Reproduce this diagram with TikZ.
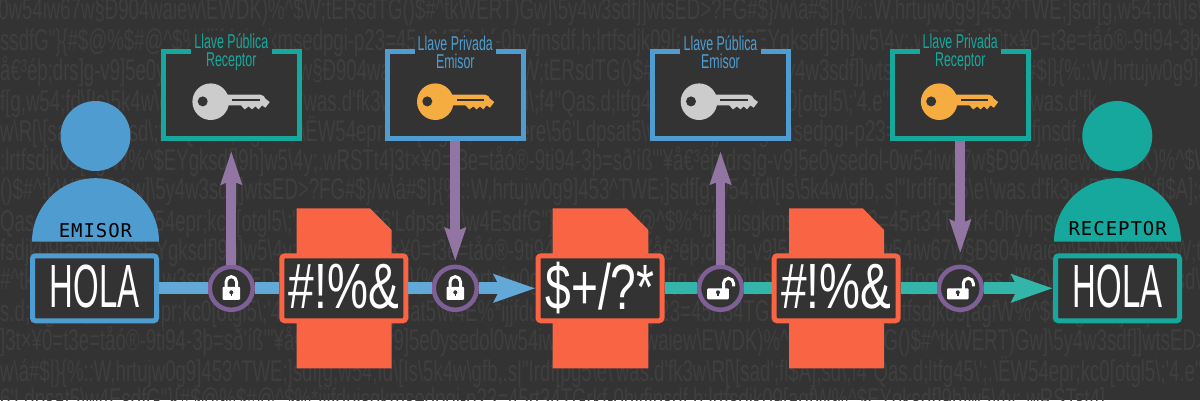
\documentclass[tikz,border=0pt]{standalone}
\usepackage{fontspec}
\usepackage{tikz}
\usetikzlibrary{arrows.meta,positioning}

\newfontfamily\ghostfont[FakeStretch=0.62]{Liberation Sans}
\newfontfamily\bigfont[FakeStretch=0.54]{Liberation Sans}
\newfontfamily\cipherfont[FakeStretch=0.72]{Liberation Sans}
\newfontfamily\keyfont[FakeStretch=0.62]{Liberation Sans}
\newfontfamily\tagfont[LetterSpace=5]{DejaVu Sans Mono}

\newcommand{\bs}{\textbackslash{}}
\newcommand{\crt}{\textasciicircum{}}

\definecolor{bgdark}{HTML}{333333}
\definecolor{ghost}{HTML}{3F3F3F}
\definecolor{blueA}{HTML}{4F9DD0}
\definecolor{blueB}{HTML}{62A9D7}
\definecolor{tealA}{HTML}{16A89C}
\definecolor{tealB}{HTML}{33B5A9}
\definecolor{redA}{HTML}{F96444}
\definecolor{purpleA}{HTML}{9375A3}
\definecolor{purpleB}{HTML}{7E5F96}
\definecolor{amber}{HTML}{F5AC41}
\definecolor{keygrey}{HTML}{CCCCCC}

\tikzset{
  keyicon/.pic={
    \path[pic actions] (0,0) circle (18.3);
    \path[pic actions] (14,-7) -- (49.7,-7) -- (53,-5.7) -- (54.7,-3) -- (59,0.3)
      -- (54.7,6) -- (51.3,3.7) -- (48,7.7) -- (44.7,4.7) -- (41.3,7.7)
      -- (38,4.7) -- (34,7.7) -- (30.3,3.7) -- (14,3.7) -- cycle;
    \fill[bgdark] (-8,-0.3) circle (5);
    \fill[bgdark] (21.3,-3) rectangle (49,-1);
  },
  closedlock/.pic={
    \draw[white,line width=3] (-5.2,1) -- (-5.2,-6.5) arc (180:360:5.2) -- (5.2,1);
    \fill[white,rounded corners=1] (-8.8,-1.5) rectangle (8.8,11.5);
    \fill[bgdark] (0,4) circle (2);
    \fill[bgdark] (-0.8,4) rectangle (0.8,8);
  },
  openlock/.pic={
    \draw[white,line width=3] (3,1) -- (3,-5) arc (180:360:5) -- (13,-2);
    \fill[white,rounded corners=1] (-13.3,0) rectangle (8.3,11);
    \fill[bgdark] (-2.5,4) circle (2);
    \fill[bgdark] (-3.3,4) rectangle (-1.7,8);
  }
}

\begin{document}
\begin{tikzpicture}[x=1pt,y=-1pt]

\useasboundingbox (0,0) rectangle (1200,400);
\clip (0,0) rectangle (1200,400);
\fill[bgdark] (0,0) rectangle (1200,400);

% set style here
\tikzstyle{ghostrow}=[anchor=west,inner sep=0,text=ghost,font=\ghostfont\fontsize{30}{30}\selectfont]
\tikzstyle{holabox}=[draw,fill=bgdark,line width=5,rounded corners=3,minimum width=124,minimum height=65,inner sep=0,text depth=4,text=white,font=\bigfont\fontsize{61}{61}\selectfont]
\tikzstyle{cipherbox}=[holabox,draw=redA,font=\cipherfont\fontsize{64}{64}\selectfont]
\tikzstyle{keybox}=[draw,fill=bgdark,line width=5,minimum width=136,minimum height=87,inner sep=0]
\tikzstyle{keylabel}=[fill=bgdark,minimum width=81,inner sep=2,align=center,font=\keyfont\fontsize{20}{18.3}\selectfont]
\tikzstyle{lockring}=[draw=purpleB,fill=bgdark,line width=4.5,circle,minimum size=43,inner sep=0]
\tikzstyle{tagtext}=[inner sep=0,text=black,font=\tagfont\fontsize{19}{19}\selectfont]
\tikzstyle{mainline}=[line width=12,-{Stealth[length=41,width=27,inset=6]}]
\tikzstyle{keyline}=[draw=purpleA,line width=9.7,-{Stealth[length=33,width=20,inset=3]}]

% ghost text behind everything
\node (row0) at (-8, 12) [ghostrow] {-0w54iw67w§Ð904waiew\bs EWDK)\%\crt\$W;tERsdTG()\$\#\crt tkWERT)Gw]\bs 5y4w3sdf]]wtsED>?FG\#\$\}/w\bs á\#\$|\}\{\%::W,hrtujw0g9]453\crt TWE;]sdf[g,w54;fd\bs[Is\bs 5k4w\bs gfb,.s|"Irdf[pg5\bs e\bs'was};
\node (row1) at (0, 42) [ghostrow] {ssdfG"\}\{\#\$@\%\$\#@\crt\$\%*ijjfduisgkmsedpgi-p23=45rt34TGrkf-0hyfjnsdf,h;lrtfsdjk09[agfW\%\crt\$EYgksdf]9h]w5\bs 4y;.wRSTst4]3t×¥0=t3e=tåó®-9ti94-3þ=sð'íß'"};
\node (row2) at (0, 72) [ghostrow] {å€³éþ;drs]g-v9]5e0ysedol-0w54iw67w§Ð904waiew\bs EWDK)\%\crt\$W;tERsdTG()\$\#\crt tkWERT)Gw]\bs 5y4w3sdf]]wtsED>?FG\#\$\}/w\bs á\#\$|\}\{\%::W,hrtujw0g9]453\crt TWE;]sdf};
\node (row3) at (0, 102) [ghostrow] {f[g,w54;fd\bs[Is\bs 5k4w\bs gfb,.s|"Irdf[pg5\bs e\bs'was.d'fk3w\bs R[\bs[sad';fl\$A];sd\bs;f4"Qas.d;ltfg45\bs';.\bs ËW54epr;kc0[otgl5\bs;'4.e"\bs;ere\bs|"Irdf[pg5\bs e\bs'was.d'fk};
\node (row4) at (0, 132) [ghostrow] {w\bs R[\bs[sad';fl\$A];sd\bs;f4"Qas.d;ltfg45\bs';.\bs ËW54epr;kc0[otgl5\bs;'4.e"\bs;ere\bs 56'Ldpsat5\bs w4E\%*ijjfduisgkmsedpgi-p23=45rt34TGrkf-0hyfjnsdf,};
\node (row5) at (0, 162) [ghostrow] {;lrtfsdjk09[agfW\%\crt\$EYgksdf]9h]w5\bs 4y;.wRSTt4]3t×¥0=t3e=tåó®-9ti94-3þ=sð'íß'"¥å€³éþ;drs]g-v9]5e0ysedol-0w54iw67w§Ð904waiew\bs EWDK)\%\crt\$W;tERsdT};
\node (row6) at (0, 192) [ghostrow] {()\$\#\crt tkWERT)Gw]\bs 5y4w3sdf]]wtsED>?FG\#\$\}/w\bs á\#\$|\}\{\%::W,hrtujw0g9]453\crt TWE;]sdf[g,w54;fd\bs[Is\bs 5k4w\bs gfb,.s|"Irdf[pg5\bs e\bs'was.d'fk3w\bs R[\bs[sad';fl\$A];sd\bs;f4};
\node (row7) at (0, 222) [ghostrow] {Qas.d;ltfg45\bs';.\bs ËW54epr;kc0[otgl5\bs;'4.e"\bs;ere\bs 56'Ldpsat5\bs w4EsdfG"\}\{\#\$@\%\$\#@\crt\$\%*ijjfduisgkmsedpgi-p23=45rt34TGrkf-0hyfjnsdf,h;};
\node (row8) at (0, 252) [ghostrow] {fsdjk09[agfW\%\crt\$EYgksdf]9h]w5\bs 4y;.wRSTt4]3t×¥0=t3e=tåó®-9ti94-3þ=sð'íß'"¥å€³éþ;drs]g-v9]5e0ysedol-0w54iw67w§Ð904waiew\bs EWDK)\%\crt\$W;tERsdTG(};
\node (row9) at (0, 282) [ghostrow] {\#\crt tkWERT)Gw]\bs 5y4w3sdf]]wtsED>?FG\#\$\}/w\bs á\#\$|\}\{\%::W,hrtujw0g9]453\crt TWE;]sdf[g,w54;fd\bs[Is\bs 5k4w\bs gfb,.s|"Irdf[pg5\bs e\bs'was.d'fk3w\bs R[\bs[sad';fl\$A];sd\bs;f4"Q};
\node (row10) at (0, 312) [ghostrow] {s.d;ltfg45\bs';.\bs ËW54epr;kc0[otgl5\bs;'4.e"\bs;ere\bs 56'Ldpsat5\bs w4E\%*ijjfduisgkmsedpgi-p23=45rt34TGrkf-0hyfjnsdf,h;lrtfsdjk09[agfW\%\crt\$EYgksdf]9h]w5};
\node (row11) at (0, 342) [ghostrow] {]3t×¥0=t3e=tåó®-9ti94-3þ=sð'íß'"¥å€³éþ;drs]g-v9]5e0ysedol0w54iw67w§Ð904waiew\bs EWDK)\%\crt\$W;tERsdTG()\$\#\crt tkWERT)Gw]\bs 5y4w3sdf]]wtsED>?FG\#\$\}/w\bs á\#\$|\}\{};
\node (row12) at (0, 372) [ghostrow] {w\bs á\#\$|\}\{\%::W,hrtujw0g9]453\crt TWE;]sdf[g,w54;fd\bs[Is\bs 5k4w\bs gfb,.s|"Irdf[pg5\bs e\bs'was.d'fk3w\bs R[\bs[sad';fl\$A];sd\bs;f4"Qas.d;ltfg45\bs';.\bs ËW54epr;kc0[otgl5\bs;'4.e"};
\node (row13) at (0, 402) [ghostrow] {6'Ldpsat5\bs w4EsdfG"\}\{\#\$@\%\$\#@\crt\$\%*ijjfduisgkmsedpgi-p23=45rt34TGrkf-0hyfjnsdf,h;lrtfsdjk09[agfW\%\crt\$EYgksdf]9h]w5\bs 4y;.wRSTst4]};

% sender and receiver
\fill[blueA] (95.5,136) circle (35);
\fill[blueA] (32,241.7) arc (180:360:63.5) -- cycle;
\fill[tealA] (1117.3,136) circle (35);
\fill[tealA] (1054,241.7) arc (180:360:63.5) -- cycle;
\node (emisor) at (95.5, 230.7) [tagtext] {EMISOR};
\node (receptor) at (1117.7, 229) [tagtext] {RECEPTOR};

% sheets behind the cipher boxes
\fill[redA] (296.7,208.3) -- (370,208.3) -- (391.7,230) -- (391.7,368.3) -- (296.7,368.3) -- cycle;
\fill[redA] (552.7,208.3) -- (626.7,208.3) -- (648.3,230) -- (648.3,368.3) -- (552.7,368.3) -- cycle;
\fill[redA] (789,208.3) -- (862.7,208.3) -- (884,230) -- (884,368.3) -- (789,368.3) -- cycle;

\node (plainA) at (94.5, 288.3) [holabox,draw=blueA] {HOLA};
\node (cipherA) at (343.8, 288.3) [cipherbox] {\#!\%\&};
\node (cipherB) at (600, 288.3) [cipherbox] {\$+/?*};
\node (cipherC) at (836.2, 288.3) [cipherbox] {\#!\%\&};
\node (plainB) at (1117.5, 288.3) [holabox,draw=tealA] {HOLA};

\node (lockA) at (231.3, 288.3) [lockring] {};
\node (lockB) at (455.3, 288.3) [lockring] {};
\node (lockC) at (720.5, 288.3) [lockring] {};
\node (lockD) at (960.3, 288.3) [lockring] {};

\node (keyA) at (231.3, 94.7) [keybox,draw=tealA] {};
\node (keyB) at (455.3, 94.7) [keybox,draw=blueA] {};
\node (keyC) at (720.5, 94.7) [keybox,draw=blueA] {};
\node (keyD) at (960.3, 94.7) [keybox,draw=tealA] {};

\node (nameA) at (231.3, 52) [keylabel,text=tealA] {Llave Pública\\Receptor};
\node (nameB) at (455.3, 52) [keylabel,text=blueA] {Llave Privada\\Emisor};
\node (nameC) at (720.5, 52) [keylabel,text=blueA] {Llave Pública\\Emisor};
\node (nameD) at (960.3, 52) [keylabel,text=tealA] {Llave Privada\\Receptor};

\pic at (210.7, 101.7) [fill=keygrey] {keyicon};
\pic at (435.3, 101.7) [fill=amber] {keyicon};
\pic at (699, 101.7) [fill=keygrey] {keyicon};
\pic at (939.2, 101.7) [fill=amber] {keyicon};

% connectors
\draw[mainline,draw=blueB,-] (plainA) -- (lockA);
\draw[mainline,draw=blueB,-] (lockA) -- (cipherA);
\draw[mainline,draw=blueB,-] (cipherA) -- (lockB);
\draw[mainline,draw=blueB] (lockB) -- (cipherB);
\draw[mainline,draw=tealB,-] (cipherB) -- (lockC);
\draw[mainline,draw=tealB,-] (lockC) -- (cipherC);
\draw[mainline,draw=tealB,-] (cipherC) -- (lockD);
\draw[mainline,draw=tealB] (lockD) -- (plainB);
\draw[keyline,shorten >=10] (lockA) -- (keyA);
\draw[keyline,shorten >=3] (keyB) -- (lockB);
\draw[keyline,shorten >=10] (lockC) -- (keyC);
\draw[keyline,shorten >=11] (keyD) -- (lockD);

\pic at (231.3, 288.3) {closedlock};
\pic at (455.3, 288.3) {closedlock};
\pic at (720.5, 288.3) {openlock};
\pic at (960.3, 288.3) {openlock};

\end{tikzpicture}
\end{document}
